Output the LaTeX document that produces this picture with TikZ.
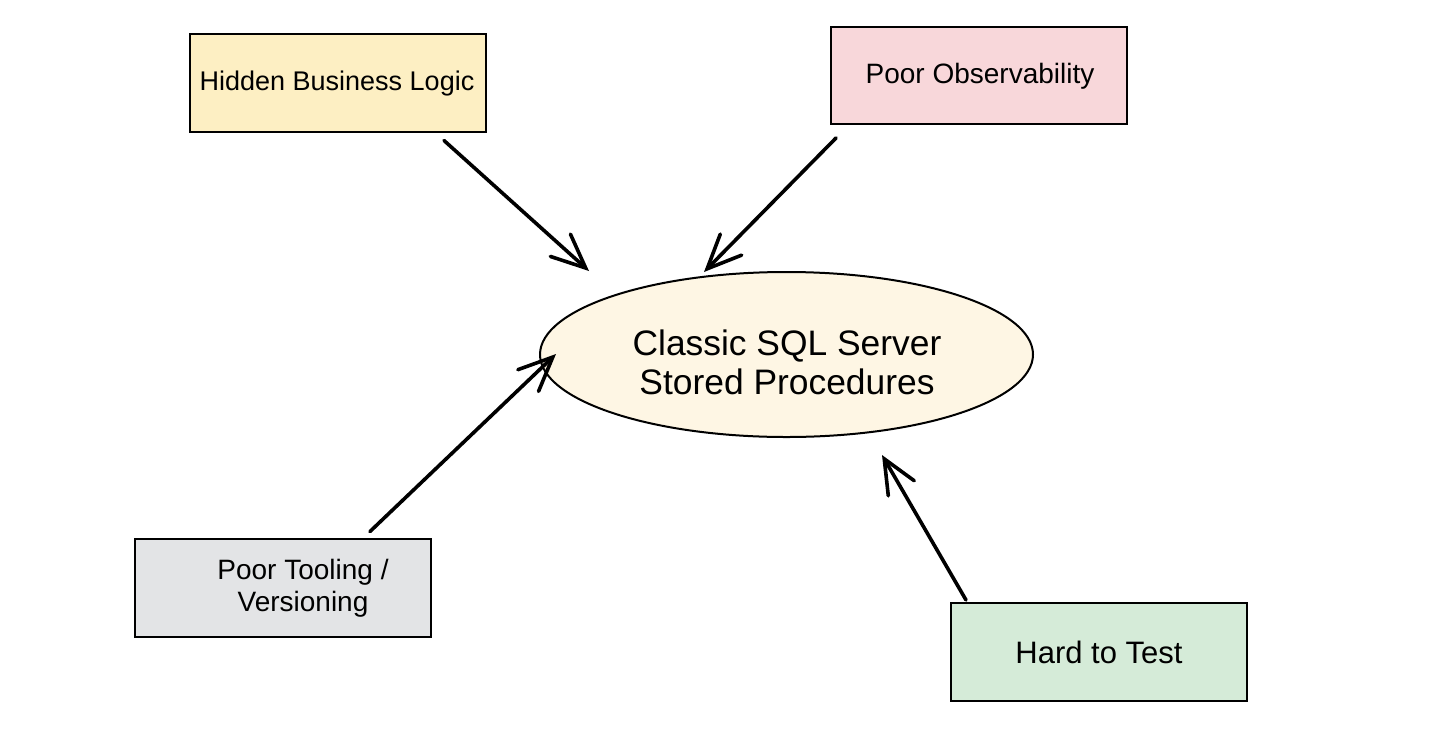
\documentclass[tikz,border=0pt]{standalone}
\usepackage{fontspec}
\setmainfont{Liberation Sans}
\usetikzlibrary{shapes.geometric,arrows.meta,calc}
\definecolor{cYellow}{HTML}{FDEFC3}
\definecolor{cPink}{HTML}{F8D7DA}
\definecolor{cGrey}{HTML}{E3E4E6}
\definecolor{cGreen}{HTML}{D5EBD8}
\definecolor{cCream}{HTML}{FEF6E4}
\begin{document}
\begin{tikzpicture}[x=0.5pt,y=-0.5pt,
  box/.style={draw=black,line width=1pt,rectangle,inner sep=0pt,minimum width=148pt,minimum height=49pt},
  lbl/.style={font=\fontsize{14}{16}\selectfont,align=center,inner sep=0pt},
  arr/.style={line width=1.8pt,line cap=round,-{Straight Barb[length=17pt,width=15pt,line cap=round]}}
]
\useasboundingbox (0,0) rectangle (1456,729);
\fill[white] (0,0) rectangle (1456,729);
\node[box,fill=cYellow] (b1) at (337.5,82.5) {};
\node[lbl,font=\fontsize{13.5}{16}\selectfont] (b1t) at (337,84) {Hidden Business Logic};
\node[box,fill=cPink,minimum height=48.5pt] (b2) at (979,75.5) {};
\node[lbl] (b2t) at (980,76) {Poor Observability};
\node[box,fill=cGrey] (b3) at (283,587.5) {};
\node[lbl] (b3t) at (303,588) {Poor Tooling /\\Versioning};
\node[box,fill=cGreen] (b4) at (1099,652) {};
\node[lbl,font=\fontsize{15.5}{18}\selectfont] (b4t) at (1099,652) {Hard to Test};
\node[draw,ellipse,line width=1pt,fill=cCream,minimum width=246.5pt,minimum height=82.5pt,inner sep=0pt] (ell) at (786.5,354.5) {};
\node[font=\fontsize{17.7}{19.5}\selectfont,align=center,inner sep=0pt] (ellt) at (787,362) {Classic SQL Server\\Stored Procedures};
\coordinate (t1) at (589,271);
\coordinate (t2) at (704,272);
\coordinate (t3) at (556,354);
\coordinate (t4) at (882,455);
\draw[arr] ($(b1.south)+(106.5,8)$) -- (t1);
\draw[arr] ($(b2.south)+(-143,13)$) -- (t2);
\draw[arr] ($(b3.north)+(87,-6)$) -- (t3);
\draw[arr] ($(b4.north)+(-133,-2)$) -- (t4);
\end{tikzpicture}
\end{document}
